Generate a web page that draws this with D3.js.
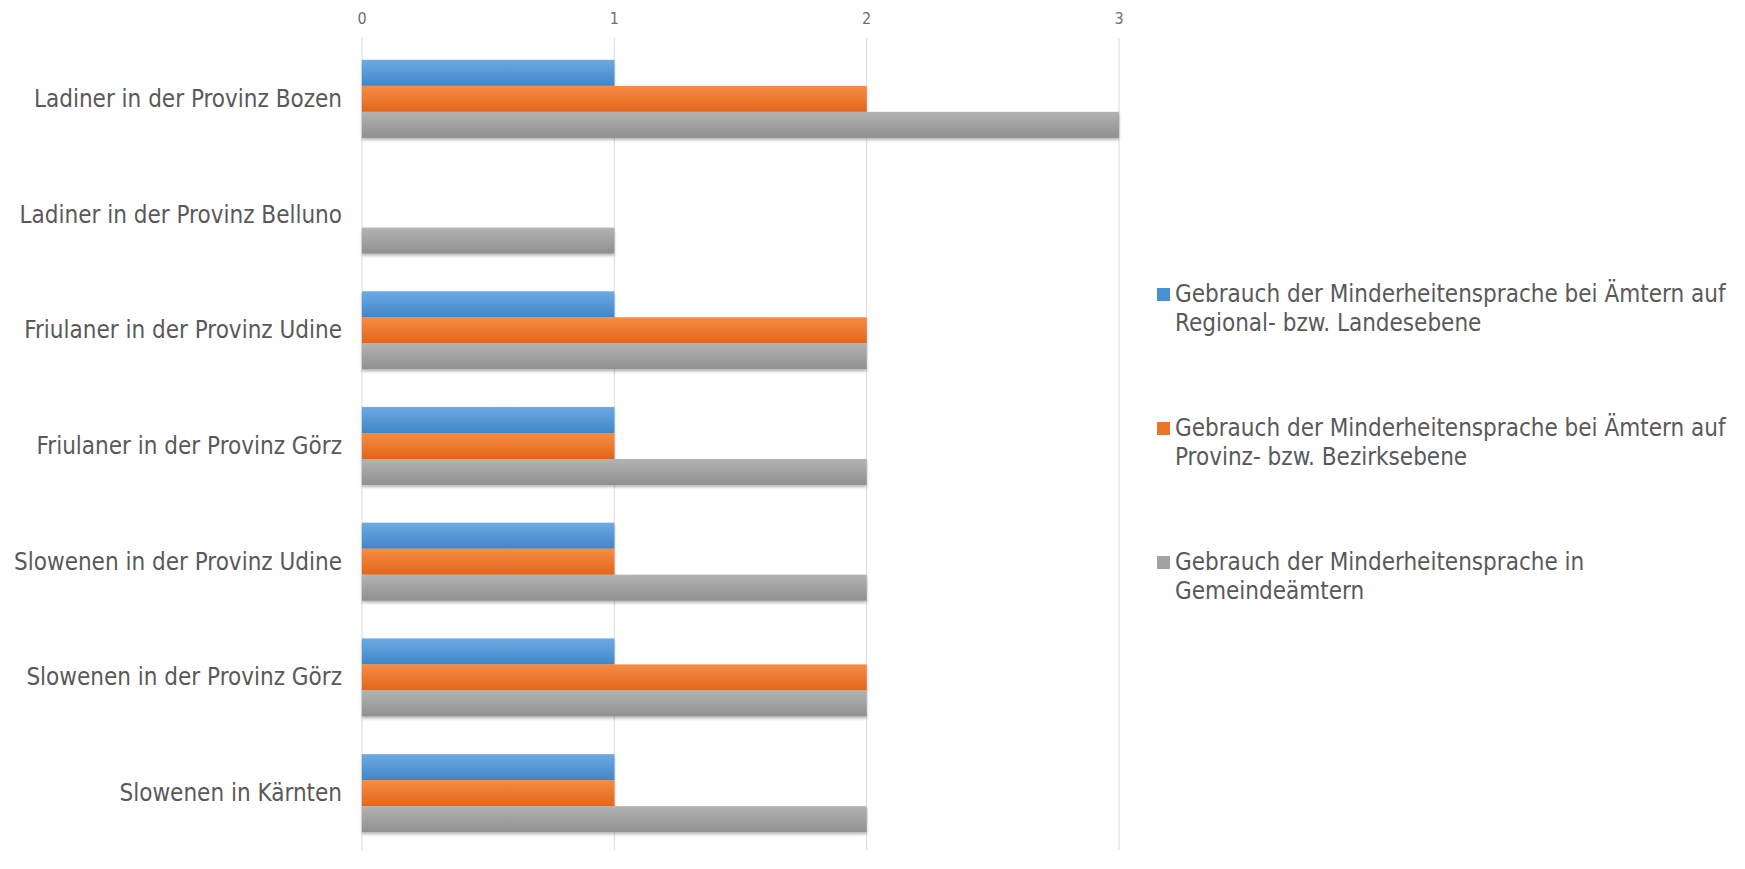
<!DOCTYPE html>
<html>
<head>
<meta charset="utf-8">
<script src="https://cdn.jsdelivr.net/npm/d3@7"></script>
<style>
html,body{margin:0;padding:0;background:#fff;}
svg{display:block;}
</style>
</head>
<body>
<svg id="chart" width="1745" height="869"></svg>
<script>
const categories = [
  "Ladiner in der Provinz Bozen",
  "Ladiner in der Provinz Belluno",
  "Friulaner in der Provinz Udine",
  "Friulaner in der Provinz Görz",
  "Slowenen in der Provinz Udine",
  "Slowenen in der Provinz Görz",
  "Slowenen in Kärnten"
];
const seriesNames = [
  ["Gebrauch der Minderheitensprache bei Ämtern auf", "Regional- bzw. Landesebene"],
  ["Gebrauch der Minderheitensprache bei Ämtern auf", "Provinz- bzw. Bezirksebene"],
  ["Gebrauch der Minderheitensprache in", "Gemeindeämtern"]
];
const regionalValues = [1, 0, 1, 1, 1, 1, 1];
const provinzValues  = [2, 0, 2, 1, 1, 2, 1];
const gemeindeValues = [3, 1, 2, 2, 2, 2, 2];
const xTicks = [0, 1, 2, 3];

const seriesValues = [regionalValues, provinzValues, gemeindeValues];
const colors = [
  {top: "#6eaae2", bot: "#3f86c9", legend: "#4a90d4"},
  {top: "#f68c45", bot: "#e2661b", legend: "#ec7628"},
  {top: "#b3b3b3", bot: "#909090", legend: "#a3a3a3"}
];
const font = "'DejaVu Sans Condensed', 'DejaVu Sans', sans-serif";

const svg = d3.select("#chart");
const defs = svg.append("defs");
colors.forEach((c, i) => {
  const g = defs.append("linearGradient").attr("id", "grad" + i)
    .attr("x1", 0).attr("y1", 0).attr("x2", 0).attr("y2", 1);
  g.append("stop").attr("offset", "0%").attr("stop-color", c.top);
  g.append("stop").attr("offset", "100%").attr("stop-color", c.bot);
});
const f = defs.append("filter").attr("id", "shadow")
  .attr("x", "-5%").attr("y", "-20%").attr("width", "110%").attr("height", "150%");
f.append("feDropShadow").attr("dx", 0).attr("dy", 2).attr("stdDeviation", 1.5)
  .attr("flood-color", "#000").attr("flood-opacity", 0.3);

const x = d3.scaleLinear().domain([0, 3]).range([362, 1119]);
const y = d3.scaleBand().domain(categories).range([41, 851])
  .paddingInner(0.3257).paddingOuter(0.1628);
const yInner = d3.scaleBand().domain([0, 1, 2]).range([0, y.bandwidth()]);

// gridlines
svg.append("g").selectAll("line").data(xTicks).join("line")
  .attr("x1", d => x(d)).attr("x2", d => x(d))
  .attr("y1", 38).attr("y2", 850)
  .attr("stroke", "#d9d9d9").attr("stroke-width", 1);

// tick labels
svg.append("g").selectAll("text").data(xTicks).join("text")
  .attr("x", d => x(d)).attr("y", 18)
  .attr("text-anchor", "middle").attr("dominant-baseline", "central")
  .attr("font-family", font).attr("font-size", 16).attr("fill", "#6f6f6f")
  .text(d => d);

// bars
const groups = svg.append("g").selectAll("g").data(categories).join("g")
  .attr("transform", d => `translate(0,${y(d)})`);
groups.each(function(cat, ci) {
  const g = d3.select(this);
  seriesValues.forEach((vals, si) => {
    const v = vals[ci];
    if (v <= 0) return;
    g.append("rect")
      .attr("x", x(0))
      .attr("y", yInner(si))
      .attr("width", x(v) - x(0))
      .attr("height", yInner.bandwidth())
      .attr("fill", `url(#grad${si})`)
      .attr("filter", "url(#shadow)");
  });
});

// category labels
svg.append("g").selectAll("text").data(categories).join("text")
  .attr("x", 342).attr("y", d => y(d) + y.bandwidth() / 2)
  .attr("text-anchor", "end").attr("dominant-baseline", "central")
  .attr("font-family", font).attr("font-size", 24).attr("fill", "#595959")
  .text(d => d);

// legend
const legendY = [294, 428, 562];
const leg = svg.append("g");
seriesNames.forEach((lines, i) => {
  leg.append("rect").attr("x", 1157).attr("y", legendY[i] - 6)
    .attr("width", 13).attr("height", 13).attr("fill", colors[i].legend);
  lines.forEach((ln, j) => {
    leg.append("text").attr("x", 1175).attr("y", legendY[i] + j * 29)
      .attr("dominant-baseline", "central")
      .attr("font-family", font).attr("font-size", 24).attr("fill", "#595959")
      .text(ln);
  });
});
</script>
</body>
</html>
